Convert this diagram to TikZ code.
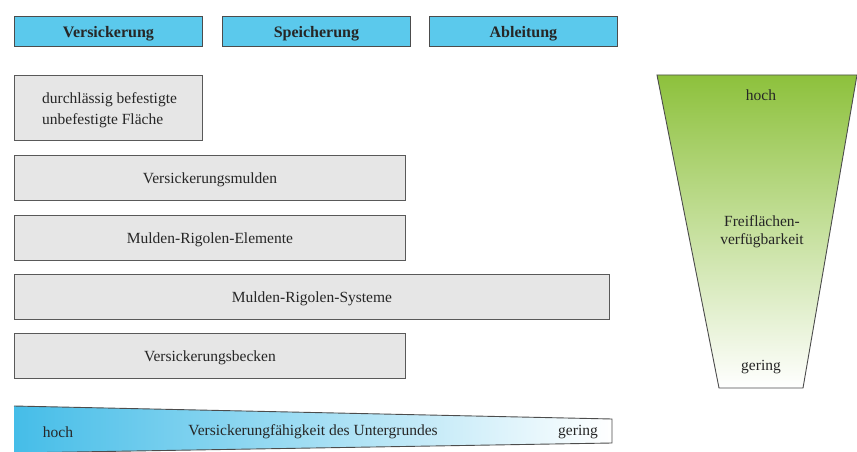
\documentclass[tikz,border=0pt]{standalone}
\usepackage{fontspec}
\setmainfont{Liberation Serif}
\begin{document}
\begin{tikzpicture}[x=1pt,y=-1pt,
  hdr/.style={draw=black!70,line width=0.9pt,fill=hdrblue,font=\fontsize{16}{18}\selectfont\bfseries,text=black!85,anchor=north west,inner sep=0pt,text depth=0pt},
  gbox/.style={draw=black!65,line width=0.9pt,fill=boxgray,font=\fontsize{15.5}{18}\selectfont,text=black!85,anchor=north west,inner sep=0pt,align=center,text depth=0pt},
  lbl/.style={font=\fontsize{15.5}{18}\selectfont,text=black!85,inner sep=0pt,align=center}]
\definecolor{hdrblue}{HTML}{5BC9EC}
\definecolor{boxgray}{HTML}{E6E6E6}
\definecolor{wblue}{HTML}{45BDE8}
\definecolor{fgreen}{HTML}{8DC13C}
\useasboundingbox (0,0) rectangle (857,452);
% headers
\node[hdr,minimum width=188pt,minimum height=30pt] (h1) at (14,16) {Versickerung};
\node[hdr,minimum width=188pt,minimum height=30pt] (h2) at (222,16) {Speicherung};
\node[hdr,minimum width=188pt,minimum height=30pt] (h3) at (429,16) {Ableitung};
% boxes
\node[gbox,minimum width=188pt,minimum height=65pt] (b1) at (14,75) {};
\node[lbl,align=left,anchor=west,font=\fontsize{15.5}{21}\selectfont] (b1t) at (42,110) {durchlässig befestigte\\unbefestigte Fläche};
\node[gbox,minimum width=391pt,minimum height=45pt] (b2) at (14,155) {Versickerungsmulden};
\node[gbox,minimum width=391pt,minimum height=45pt] (b3) at (14,215) {Mulden-Rigolen-Elemente};
\node[gbox,minimum width=595pt,minimum height=45pt] (b4) at (14,274) {Mulden-Rigolen-Systeme};
\node[gbox,minimum width=391pt,minimum height=45pt] (b5) at (14,333) {Versickerungsbecken};
% bottom wedge
\shade[left color=wblue,right color=white] (14,406) -- (612,419) -- (612,443) -- (14,453) -- cycle;
\draw[black!70,line width=0.9pt] (14,406) -- (612,419) -- (612,443) -- (14,453);
\node[lbl] (wl) at (58,432) {hoch};
\node[lbl] (wm) at (313,432) {Versickerungfähigkeit des Untergrundes};
\node[lbl] (wr) at (578,432) {gering};
% right trapezoid
\shade[top color=fgreen,bottom color=white] (657,75) -- (857,75) -- (803,388) -- (719,388) -- cycle;
\draw[black!70,line width=0.9pt] (657,75) -- (857,75) -- (803,388) -- (719,388) -- cycle;
\node[lbl] (ft) at (761,95) {hoch};
\node[lbl] (fm) at (762,232) {Freiflächen-\\verfügbarkeit};
\node[lbl] (fb) at (761,367) {gering};
\end{tikzpicture}
\end{document}
